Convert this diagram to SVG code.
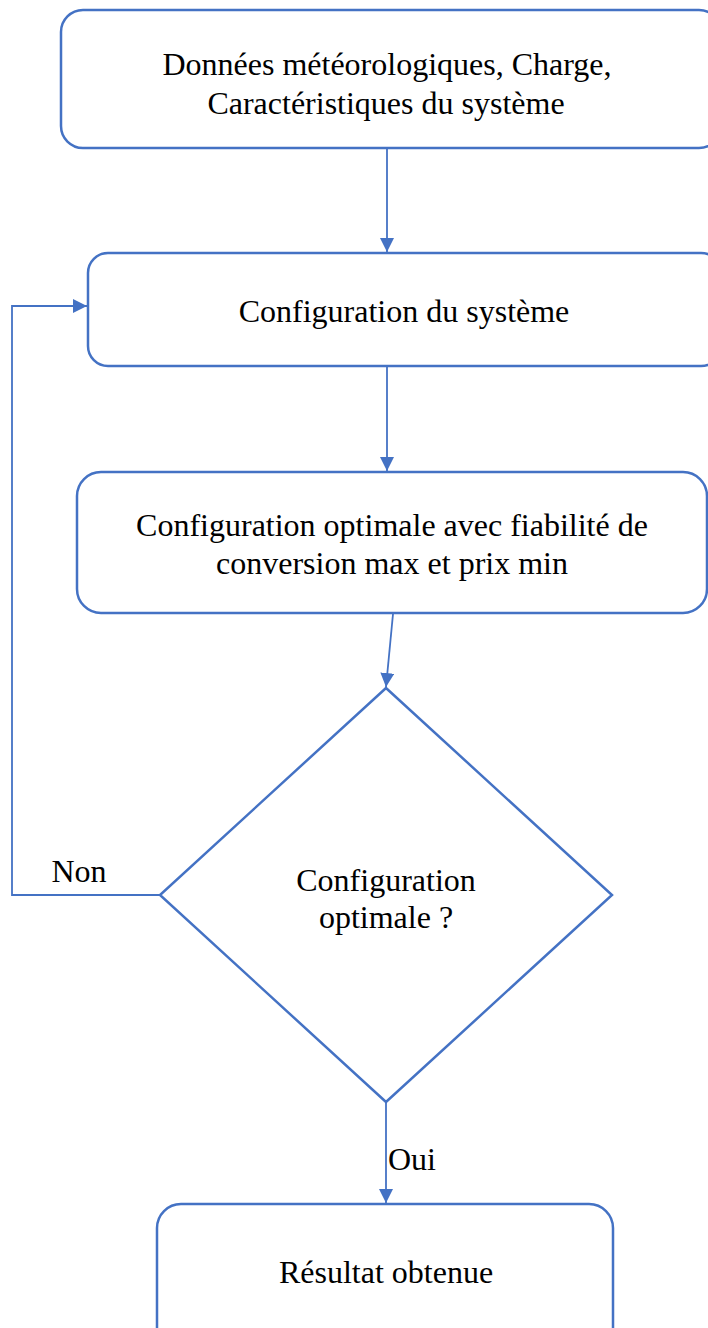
<svg xmlns="http://www.w3.org/2000/svg" width="708" height="1328" viewBox="0 0 708 1328">
<style>
.box{fill:#fff;stroke:#4472C4;stroke-width:2.5}
.line{fill:none;stroke:#4472C4;stroke-width:1.8}
text{font-family:"Liberation Serif","Times New Roman",serif;font-size:32px;fill:#000;text-anchor:middle}
</style>
<defs>
<marker id="arr" viewBox="0 0 14 14" refX="14" refY="7" markerWidth="14" markerHeight="14" markerUnits="userSpaceOnUse" orient="auto">
<path d="M0,0 L14,7 L0,14 Z" fill="#4472C4"/>
</marker>
</defs>
<rect width="708" height="1328" fill="#fff"/>
<g id="connectors">
<line class="line" x1="387" y1="149" x2="387" y2="252" marker-end="url(#arr)"/>
<line class="line" x1="387" y1="367" x2="387" y2="471" marker-end="url(#arr)"/>
<line class="line" x1="393" y1="614" x2="386" y2="687" marker-end="url(#arr)"/>
<line class="line" x1="386" y1="1102" x2="386" y2="1203" marker-end="url(#arr)"/>
<polyline class="line" points="160,895 12,895 12,306 87,306" marker-end="url(#arr)"/>
<text x="79" y="882">Non</text>
<text x="412" y="1170">Oui</text>
</g>
<g id="n1">
<rect class="box" x="61" y="10" width="660" height="138" rx="22"/>
<text x="387" y="75">Données météorologiques, Charge,</text>
<text x="386" y="114">Caractéristiques du système</text>
</g>
<g id="n2">
<rect class="box" x="88" y="253" width="633" height="113" rx="20"/>
<text x="404" y="322">Configuration du système</text>
</g>
<g id="n3">
<rect class="box" x="77" y="472" width="630" height="141" rx="24"/>
<text x="392" y="536">Configuration optimale avec fiabilité de</text>
<text x="392" y="574">conversion max et prix min</text>
</g>
<g id="n4">
<polygon class="box" points="386,688 612,895 386,1102 160,895"/>
<text x="386" y="891">Configuration</text>
<text x="386" y="928">optimale ?</text>
</g>
<g id="n5">
<rect class="box" x="157" y="1204" width="456" height="150" rx="24"/>
<text x="386" y="1283">Résultat obtenue</text>
</g>
</svg>
